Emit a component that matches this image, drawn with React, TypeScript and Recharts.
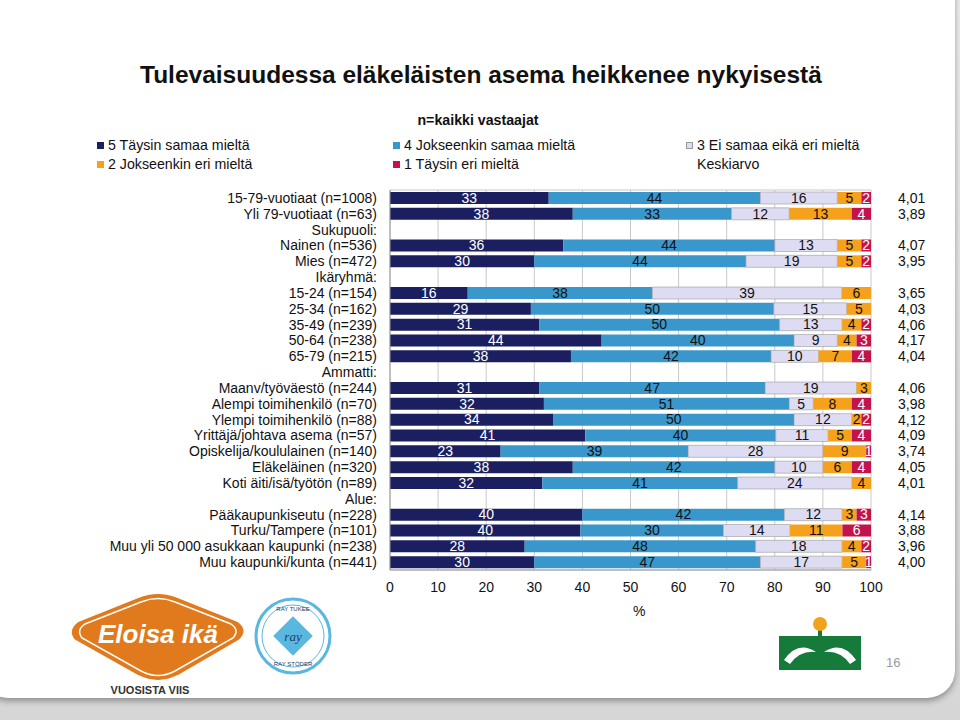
import React from 'react'
import {
  BarChart,
  Bar,
  XAxis,
  YAxis,
  CartesianGrid,
  LabelList,
} from 'recharts'

/* ------------------------------------------------------------------ */
/*  Data                                                               */
/* ------------------------------------------------------------------ */

const CATEGORIES = [
  '15-79-vuotiaat (n=1008)',
  'Yli 79-vuotiaat (n=63)',
  'Sukupuoli:',
  'Nainen (n=536)',
  'Mies (n=472)',
  'Ikäryhmä:',
  '15-24 (n=154)',
  '25-34 (n=162)',
  '35-49 (n=239)',
  '50-64 (n=238)',
  '65-79 (n=215)',
  'Ammatti:',
  'Maanv/työväestö (n=244)',
  'Alempi toimihenkilö (n=70)',
  'Ylempi toimihenkilö (n=88)',
  'Yrittäjä/johtava asema (n=57)',
  'Opiskelija/koululainen (n=140)',
  'Eläkeläinen (n=320)',
  'Koti äiti/isä/työtön (n=89)',
  'Alue:',
  'Pääkaupunkiseutu (n=228)',
  'Turku/Tampere (n=101)',
  'Muu yli 50 000 asukkaan kaupunki (n=238)',
  'Muu kaupunki/kunta (n=441)',
]

const FULLY_AGREE = [33, 38, null, 36, 30, null, 16, 29, 31, 44, 38, null, 31, 32, 34, 41, 23, 38, 32, null, 40, 40, 28, 30]
const SOMEWHAT_AGREE = [44, 33, null, 44, 44, null, 38, 50, 50, 40, 42, null, 47, 51, 50, 40, 39, 42, 41, null, 42, 30, 48, 47]
const NEUTRAL = [16, 12, null, 13, 19, null, 39, 15, 13, 9, 10, null, 19, 5, 12, 11, 28, 10, 24, null, 12, 14, 18, 17]
const SOMEWHAT_DISAGREE = [5, 13, null, 5, 5, null, 6, 5, 4, 4, 7, null, 3, 8, 2, 5, 9, 6, 4, null, 3, 11, 4, 5]
const FULLY_DISAGREE = [2, 4, null, 2, 2, null, 0, 0, 2, 3, 4, null, 0, 4, 2, 4, 1, 4, 0, null, 3, 6, 2, 1]

const AVERAGES = [
  '4,01', '3,89', '', '4,07', '3,95', '', '3,65', '4,03', '4,06', '4,17', '4,04', '',
  '4,06', '3,98', '4,12', '4,09', '3,74', '4,05', '4,01', '', '4,14', '3,88', '3,96', '4,00',
]

const X_TICKS = [0, 0.1, 0.2, 0.3, 0.4, 0.5, 0.6, 0.7, 0.8, 0.9, 1]

const SERIES = [
  { key: 'v5', name: '5 Täysin samaa mieltä', values: FULLY_AGREE, color: '#1b1f5f', text: '#ffffff' },
  { key: 'v4', name: '4 Jokseenkin samaa mieltä', values: SOMEWHAT_AGREE, color: '#3a97cb', text: '#111111' },
  { key: 'v3', name: '3 Ei samaa eikä eri mieltä', values: NEUTRAL, color: '#dedcf3', text: '#111111' },
  { key: 'v2', name: '2 Jokseenkin eri mieltä', values: SOMEWHAT_DISAGREE, color: '#f6a11b', text: '#111111' },
  { key: 'v1', name: '1 Täysin eri mieltä', values: FULLY_DISAGREE, color: '#c4134c', text: '#ffffff' },
]

const FONT = 'Arial, "Liberation Sans", sans-serif'

const chartData = CATEGORIES.map((name, i) => {
  const row: Record<string, string | number> = { name }
  SERIES.forEach((s) => {
    row[s.key] = s.values[i] ?? 0
  })
  return row
})

/* ------------------------------------------------------------------ */
/*  Segment labels                                                     */
/* ------------------------------------------------------------------ */

const makeLabel = (values: (number | null)[], fill: string) =>
  function SegmentLabel(props: any) {
    const { x, y, width, height, value, payload } = props
    let v: any = typeof value === 'number' ? value : null
    if (v === null && payload && typeof payload.name === 'string') {
      v = values[CATEGORIES.indexOf(payload.name)]
    }
    if (!v) return null
    return (
      <text
        x={Number(x) + Number(width) / 2}
        y={Number(y) + Number(height) / 2 + 1}
        fill={fill}
        fontSize={14}
        fontFamily={FONT}
        textAnchor="middle"
        dominantBaseline="middle"
      >
        {v}
      </text>
    )
  }

/* ------------------------------------------------------------------ */
/*  Legend                                                             */
/* ------------------------------------------------------------------ */

function LegendItem({ color, label, left, top, border }: { color?: string; label: string; left: number; top: number; border?: boolean }) {
  return (
    <div style={{ position: 'absolute', left, top, display: 'flex', alignItems: 'center', fontSize: 14.2, color: '#111' }}>
      {color ? (
        <span
          style={{
            display: 'inline-block',
            width: 7,
            height: 7,
            background: color,
            border: border ? '1px solid #999' : 'none',
            boxSizing: 'border-box',
            marginRight: 4,
          }}
        />
      ) : null}
      {label}
    </div>
  )
}

/* ------------------------------------------------------------------ */
/*  Decorations (logos)                                                */
/* ------------------------------------------------------------------ */

function Logos() {
  return (
    <svg width={960} height={720} style={{ position: 'absolute', left: 0, top: 0, pointerEvents: 'none' }}>
      {/* Eloisa ikä */}
      <path
        d="M 74 640 Q 66 630 78 621 L 138 597 Q 158 589 178 597 L 238 621 Q 250 630 240 640 L 178 676 Q 158 686 138 676 Z"
        fill="#e07a1c"
        stroke="#ffffff"
        strokeWidth={2}
      />
      <path
        d="M 82 638 Q 76 630 85 624 L 141 602 Q 158 595 175 602 L 231 624 Q 240 630 233 638 L 175 671 Q 158 680 141 671 Z"
        fill="none"
        stroke="#ffffff"
        strokeWidth={1.5}
      />
      <text x={158} y={643} textAnchor="middle" fill="#ffffff" fontSize={26} fontStyle="italic" fontWeight="bold" fontFamily={FONT}>
        Eloisa ikä
      </text>
      <text x={150} y={694} textAnchor="middle" fill="#333333" fontSize={11} fontWeight="bold" fontFamily={FONT}>
        VUOSISTA VIIS
      </text>
      {/* RAY */}
      <circle cx={293} cy={636} r={37} fill="#ffffff" stroke="#5ab7df" strokeWidth={3} />
      <circle cx={293} cy={636} r={31} fill="none" stroke="#5ab7df" strokeWidth={1} />
      <rect x={279} y={622} width={28} height={28} transform="rotate(45 293 636)" fill="#5ab7df" />
      <text x={293} y={641} textAnchor="middle" fill="#1b3d6b" fontSize={13} fontStyle="italic" fontFamily="serif">
        ray
      </text>
      <text x={293} y={611} textAnchor="middle" fill="#1b3d6b" fontSize={6} fontFamily={FONT}>
        RAY TUKEE
      </text>
      <text x={293} y={666} textAnchor="middle" fill="#1b3d6b" fontSize={6} fontFamily={FONT}>
        RAY STÖDER
      </text>
      {/* green logo */}
      <rect x={779} y={636} width={39} height={34} fill="#167a3a" />
      <rect x={822} y={636} width={39} height={34} fill="#167a3a" />
      <path d="M 784 660 Q 798 640 816 652 Q 800 650 790 664 Z" fill="#ffffff" />
      <path d="M 856 660 Q 842 640 824 652 Q 840 650 850 664 Z" fill="#ffffff" />
      <rect x={818} y={630} width={4} height={40} fill="#167a3a" />
      <circle cx={820} cy={624} r={7} fill="#f3a21c" />
      <text x={886} y={667} fill="#9a9a9a" fontSize={13} fontFamily={FONT}>
        16
      </text>
    </svg>
  )
}

/* ------------------------------------------------------------------ */
/*  App                                                                */
/* ------------------------------------------------------------------ */

export default function App() {
  return (
    <div
      style={{
        position: 'relative',
        width: 960,
        height: 720,
        overflow: 'hidden',
        background: 'linear-gradient(#eeeeee, #d6d6d6)',
        fontFamily: FONT,
      }}
    >
      <style>{'body{margin:0}'}</style>

      {/* slide card */}
      <div
        style={{
          position: 'absolute',
          left: -20,
          top: -20,
          width: 975,
          height: 718,
          background: '#ffffff',
          borderBottomLeftRadius: 28,
          borderBottomRightRadius: 28,
          boxShadow: '0 3px 6px rgba(0,0,0,0.35)',
        }}
      />

      <div style={{ position: 'absolute', left: 140, top: 61, fontSize: 24.5, fontWeight: 'bold', color: '#111', whiteSpace: 'nowrap' }}>
        Tulevaisuudessa eläkeläisten asema heikkenee nykyisestä
      </div>

      <div style={{ position: 'absolute', left: 0, width: 956, top: 112, textAlign: 'center', fontSize: 14.2, fontWeight: 'bold', color: '#111' }}>
        n=kaikki vastaajat
      </div>

      <LegendItem color={SERIES[0].color} label={SERIES[0].name} left={97} top={137} />
      <LegendItem color={SERIES[1].color} label={SERIES[1].name} left={393} top={137} />
      <LegendItem color={SERIES[2].color} label={SERIES[2].name} left={686} top={137} border />
      <LegendItem color={SERIES[3].color} label={SERIES[3].name} left={97} top={156} />
      <LegendItem color={SERIES[4].color} label={SERIES[4].name} left={393} top={156} />
      <LegendItem label="Keskiarvo" left={697} top={156} />

      <div style={{ position: 'absolute', left: 0, top: 0 }}>
        <BarChart
          width={960}
          height={720}
          data={chartData}
          layout="vertical"
          stackOffset="expand"
          barSize={12}
          margin={{ top: 190, right: 29, bottom: 120, left: 10 }}
        >
          <CartesianGrid
            stroke="#c9c9c9"
            horizontal={true}
            vertical={true}
            horizontalCoordinatesGenerator={({ offset }: any) => [offset.top, offset.top + offset.height]}
          />
          <XAxis
            type="number"
            domain={[0, 1]}
            ticks={X_TICKS}
            tickFormatter={(v: number) => String(Math.round(v * 100))}
            tick={{ fill: '#111', fontSize: 14, fontFamily: FONT }}
            tickLine={false}
            axisLine={{ stroke: '#9a9a9a' }}
            tickMargin={6}
            interval={0}
          />
          <YAxis
            yAxisId="left"
            type="category"
            dataKey="name"
            width={380}
            interval={0}
            tick={{ fill: '#111', fontSize: 14, fontFamily: FONT }}
            tickLine={false}
            axisLine={{ stroke: '#9a9a9a' }}
            tickMargin={7}
          />
          <YAxis
            yAxisId="right"
            type="category"
            dataKey="name"
            orientation="right"
            width={60}
            interval={0}
            tickFormatter={(_v: string, i: number) => AVERAGES[i]}
            tick={{ fill: '#111', fontSize: 14, fontFamily: FONT, textAnchor: 'start' }}
            tickLine={false}
            axisLine={false}
            tickMargin={21}
          />
          {SERIES.map((s) => (
            <Bar
              key={s.key}
              dataKey={s.key}
              name={s.name}
              yAxisId="left"
              stackId="a"
              fill={s.color}
              stroke={s.key === 'v3' ? '#9a9a9a' : 'none'}
              strokeWidth={0.6}
              isAnimationActive={false}
            >
              <LabelList dataKey={s.key} content={makeLabel(s.values, s.text)} />
            </Bar>
          ))}
        </BarChart>
      </div>

      <div style={{ position: 'absolute', left: 633, top: 603, fontSize: 14, color: '#111' }}>%</div>

      <Logos />
    </div>
  )
}
